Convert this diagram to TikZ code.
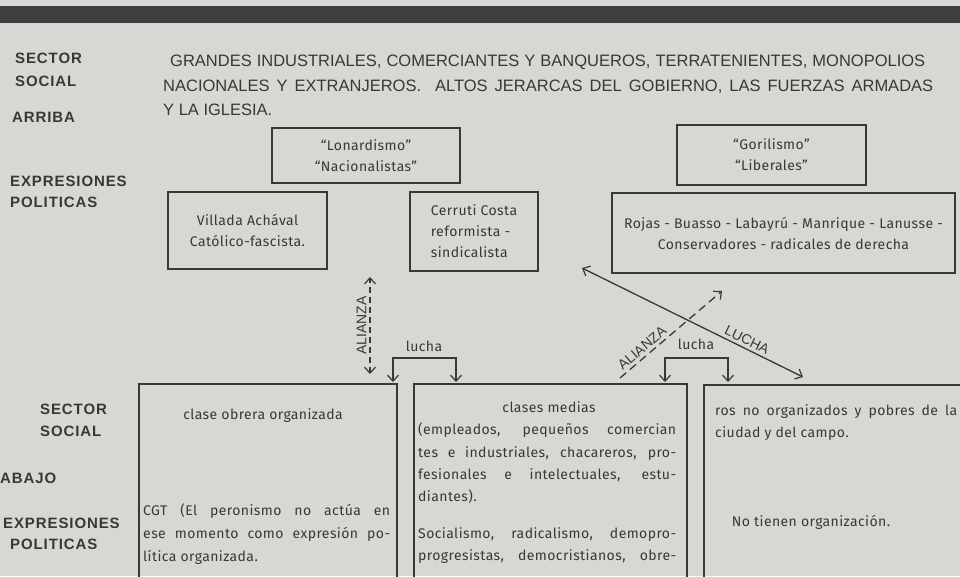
\documentclass[tikz,border=0pt]{standalone}
\usepackage{fontspec}
\setmainfont{Fira Sans}[LetterSpace=3]
\newfontfamily\capsfont{Liberation Sans}
\newfontfamily\sidefont{Liberation Sans}[LetterSpace=6]
\usetikzlibrary{arrows.meta,calc}
\definecolor{ink}{HTML}{383838}
\definecolor{paper}{HTML}{D7D7D3}
\definecolor{banner}{HTML}{3E3E3E}
\begin{document}
\begin{tikzpicture}[x=1pt,y=-1pt,
  box/.style={draw=ink, line width=1.5pt, inner sep=0pt},
  side/.style={text=ink, font=\sidefont\bfseries\fontsize{15}{17}\selectfont, anchor=base west, inner sep=0pt},
  caps/.style={text=ink, font=\capsfont\fontsize{16.5}{18}\selectfont, anchor=base west, inner sep=0pt},
  body/.style={text=ink, font=\fontsize{14}{21}\selectfont, inner sep=0pt},
  bodyl/.style={body, anchor=base west},
  bodyc/.style={body, anchor=base},
  rel/.style={text=ink, font=\capsfont\fontsize{14}{16}\selectfont, inner sep=3pt},
  conn/.style={draw=ink, line width=1.3pt},
  tip/.tip={Straight Barb[length=6pt,width=11pt,line width=1.2pt]}
]
\useasboundingbox (0,0) rectangle (960,576);
\clip (0,0) rectangle (960,576);
\fill[paper] (0,0) rectangle (960,576);
\fill[banner] (0,6) rectangle (960,23);

% left labels
\node[side] (s1) at (15,63) {SECTOR};
\node[side] (s2) at (15,86) {SOCIAL};
\node[side] (s3) at (12,122) {ARRIBA};
\node[side] (s4) at (10,186) {EXPRESIONES};
\node[side] (s5) at (10,207) {POLITICAS};
\node[side] (s6) at (40,414) {SECTOR};
\node[side] (s7) at (40,436) {SOCIAL};
\node[side] (s8) at (0,483) {ABAJO};
\node[side] (s9) at (3,528) {EXPRESIONES};
\node[side] (s10) at (10,549) {POLITICAS};

% top text
\node[caps] (c1) at (170,66) {\makebox[755pt][s]{GRANDES INDUSTRIALES, COMERCIANTES Y BANQUEROS, TERRATENIENTES, MONOPOLIOS}};
\node[caps] (c2) at (163,91) {\makebox[770pt][s]{NACIONALES Y EXTRANJEROS.\ \ ALTOS JERARCAS DEL GOBIERNO, LAS FUERZAS ARMADAS}};
\node[caps] (c3) at (163,115) {Y LA IGLESIA.};

% upper boxes
\node[box, minimum width=188, minimum height=55, body, align=center] (lon) at (366,155.5) {``Lonardismo''\\``Nacionalistas''};
\node[box, minimum width=159, minimum height=77, body, align=center] (vil) at (247.5,230.5) {Villada Achával\\Católico-fascista.};
\node[box, minimum width=128, minimum height=79, body, align=left] (cer) at (474,231.5) {Cerruti Costa\\reformista -\\sindicalista};
\node[box, minimum width=189, minimum height=60, body, align=center] (gor) at (771.5,155) {``Gorilismo''\\``Liberales''};
\node[box, minimum width=343, minimum height=80, body, align=center] (roj) at (783.5,233) {Rojas - Buasso - Labayrú - Manrique - Lanusse -\\Conservadores - radicales de derecha};

% lower boxes
\node[box, minimum width=258, minimum height=240, anchor=north west] (obr) at (138,383) {};
\node[box, minimum width=273, minimum height=240, anchor=north west] (med) at (413,383) {};
\node[box, minimum width=300, minimum height=240, anchor=north west] (pob) at (703,384) {};

\node[bodyc] (o1) at (263,419) {clase obrera organizada};
\node[bodyl] (o2) at (143,515) {\makebox[247pt][s]{CGT (El peronismo no actúa en}};
\node[bodyl] (o3) at (143,538) {\makebox[247pt][s]{ese momento como expresión po-}};
\node[bodyl] (o4) at (143,561) {lítica organizada.};

\node[bodyc] (m1) at (549,412) {clases medias};
\node[bodyl] (m2) at (418,434) {\makebox[258pt][s]{(empleados, pequeños comercian}};
\node[bodyl] (m3) at (418,457) {\makebox[258pt][s]{tes e industriales, chacareros, pro-}};
\node[bodyl] (m4) at (418,479) {\makebox[258pt][s]{fesionales e intelectuales, estu-}};
\node[bodyl] (m5) at (418,501) {diantes).};
\node[bodyl] (m6) at (418,538) {\makebox[258pt][s]{Socialismo, radicalismo, demopro-}};
\node[bodyl] (m7) at (418,560) {\makebox[258pt][s]{progresistas, democristianos, obre-}};

\node[bodyl] (p1) at (715,415) {\makebox[242pt][s]{ros no organizados y pobres de la}};
\node[bodyl] (p2) at (715,437) {ciudad y del campo.};
\node[bodyc] (p3) at (811,526) {No tienen organización.};

% vertical ALIANZA
\coordinate (va1) at (370,374);
\coordinate (va2) at (370,277);
\draw[conn, dashed, dash pattern=on 6pt off 4pt, {tip}-{tip}] (va1) -- (va2)
  node[rel, midway, sloped, above] (valz) {ALIANZA};

% lucha bracket 1
\coordinate (b1l) at (393,382);
\coordinate (b1r) at (456,382);
\draw[conn, {tip}-{tip}] (b1l) |- ($(b1r)+(0,-24)$) -- (b1r);
\node[body] (lu1) at (424,346) {lucha};

% big LUCHA
\coordinate (L1) at (582,268);
\coordinate (L2) at (803,377);
\draw[conn, {tip}-{tip}] (L1) -- (L2) node[rel, pos=0.73, sloped, above] (luc) {LUCHA};

% diagonal ALIANZA
\coordinate (da1) at (620,378);
\coordinate (da2) at (722,291);
\draw[conn, dashed, dash pattern=on 8pt off 5pt, -{tip}] (da1) -- (da2)
  node[rel, pos=0.27, sloped, above] (dalz) {ALIANZA};

% lucha bracket 2
\coordinate (b2l) at (665,382);
\coordinate (b2r) at (728,382);
\draw[conn, {tip}-{tip}] (b2l) |- ($(b2r)+(0,-24)$) -- (b2r);
\node[body] (lu2) at (696,344) {lucha};
\end{tikzpicture}
\end{document}
